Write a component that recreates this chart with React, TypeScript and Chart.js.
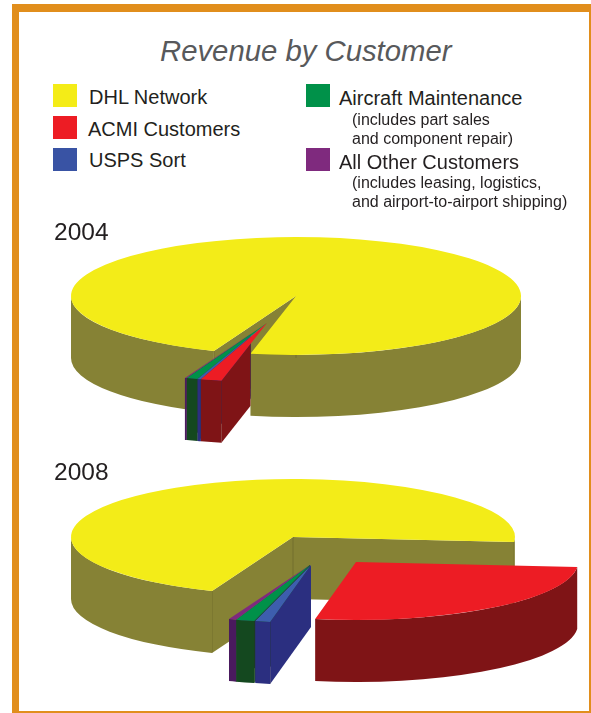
import { useEffect, useRef } from "react";
import { Chart, registerables } from "chart.js";

Chart.register(...registerables);

const categories = ["DHL Network", "ACMI Customers", "USPS Sort", "Aircraft Maintenance", "All Other Customers"];
const values2004 = [97.3, 1.5, 0.25, 0.8, 0.15];
const values2008 = [70.4, 26.6, 1.1, 1.35, 0.55];

const topColors = ["#f3ec18", "#ed1c24", "#3d5eae", "#009149", "#7f2a7e"];
const wallColors = ["#868235", "#7f1416", "#2b2f80", "#14481f", "#4a1a5e"];
const legendColors = ["#f4ec17", "#ed1c24", "#3953a4", "#009149", "#7f2a7e"];
const paintOrder = [0, 4, 3, 2, 1];

type Slab = {
  cx: number;
  cy: number;
  tilt: number;
  depth: number;
  shifts: number[][];
};

const slab2004: Slab = {
  cx: 296,
  cy: 115,
  tilt: 0.262,
  depth: 62,
  shifts: [[0, 0], [-29, 27], [-29, 27], [-29, 27], [-29, 27]],
};

const slab2008: Slab = {
  cx: 293,
  cy: 85,
  tilt: 0.261,
  depth: 62,
  shifts: [[0, 0], [63, 25], [18, 28], [17, 28], [17, 28]],
};

// Extrudes each arc downward and lays the library's own arc element on top as the lid.
const extrudedPie = {
  id: "extrudedPie",
  beforeDatasetDraw(chart: any, args: any, opts: Slab) {
    const ctx = chart.ctx;
    const arcs = args.meta.data;
    const { cx, cy, tilt, depth, shifts } = opts;

    // When the main slice's closing edge sits left of centre, its rim hides whatever is pulled out behind it.
    const mainEnd = arcs[0].getProps(["endAngle", "outerRadius"], true);
    const hidesBehind = Math.cos(mainEnd.endAngle) < 0;
    const hideX = cx + mainEnd.outerRadius * Math.cos(mainEnd.endAngle);

    for (const i of paintOrder) {
      const arc = arcs[i];
      const { startAngle: a0, endAngle: a1, outerRadius: r } = arc.getProps(["startAngle", "endAngle", "outerRadius"], true);
      const x = cx + shifts[i][0];
      const y = cy + shifts[i][1];
      const ry = r * tilt;
      const wall = wallColors[i];
      const seam = "rgba(50,45,20,0.22)";

      ctx.save();
      if (i > 0 && hidesBehind) {
        ctx.beginPath();
        ctx.rect(0, 0, hideX, chart.height);
        ctx.clip();
      }
      ctx.fillStyle = wall;
      // Cut faces, visible only when they turn toward the viewer
      const cutFace = (a: number) => {
        const px = x + r * Math.cos(a);
        const py = y + ry * Math.sin(a);
        ctx.beginPath();
        ctx.moveTo(x, y);
        ctx.lineTo(px, py);
        ctx.lineTo(px, py + depth);
        ctx.lineTo(x, y + depth);
        ctx.closePath();
        ctx.fill();
        ctx.strokeStyle = seam;
        ctx.lineWidth = 1;
        ctx.beginPath();
        ctx.moveTo(px, py);
        ctx.lineTo(px, py + depth);
        ctx.stroke();
      };
      if (Math.cos(a0) < 0) cutFace(a0);
      if (Math.cos(a1) > 0) cutFace(a1);

      // Rim, only over the front half of the ellipse
      for (let k = -1; k <= 2; k++) {
        const from = Math.max(a0, 2 * Math.PI * k);
        const to = Math.min(a1, 2 * Math.PI * k + Math.PI);
        if (to <= from) continue;
        ctx.beginPath();
        ctx.ellipse(x, y, r, ry, 0, from, to);
        ctx.ellipse(x, y + depth, r, ry, 0, to, from, true);
        ctx.closePath();
        ctx.fill();
      }
      if (i === 0) {
        ctx.strokeStyle = seam;
        ctx.lineWidth = 1;
        ctx.beginPath();
        ctx.moveTo(x, y);
        ctx.lineTo(x, y + depth);
        ctx.stroke();
      }
      ctx.restore();

      ctx.save();
      ctx.translate(x, y);
      ctx.scale(1, tilt);
      ctx.translate(-arc.x, -arc.y);
      arc.draw(ctx, chart.chartArea);
      ctx.restore();
    }
    return false;
  },
};

function SlabPie({ values, slab, radius, top, height }: { values: number[]; slab: Slab; radius: number; top: number; height: number }) {
  const ref = useRef<HTMLCanvasElement>(null);
  useEffect(() => {
    const chart = new Chart(ref.current!, {
      type: "pie",
      data: {
        labels: categories,
        datasets: [{ data: values, backgroundColor: topColors, borderWidth: 0, radius }],
      },
      options: {
        responsive: false,
        animation: false,
        rotation: 201.4,
        events: [],
        plugins: { legend: { display: false }, tooltip: { enabled: false }, extrudedPie: slab },
      } as any,
      plugins: [extrudedPie],
    });
    return () => chart.destroy();
  }, []);
  return <canvas ref={ref} width={591} height={height} style={{ position: "absolute", left: 0, top, width: 591, height }} />;
}

const sans = '"Liberation Sans", Arial, sans-serif';
const frameColor = "#e18e1c";

function Label({ x, y, size, color, style, children }: any) {
  return (
    <div style={{ position: "absolute", left: x, top: y, fontSize: size, lineHeight: 1, color: color ?? "#231f20", whiteSpace: "nowrap", fontFamily: sans, ...style }}>
      {children}
    </div>
  );
}

function Swatch({ x, y, color }: { x: number; y: number; color: string }) {
  return <div style={{ position: "absolute", left: x, top: y, width: 24, height: 23, background: color }} />;
}

function Bar({ x, y, w, h }: { x: number; y: number; w: number; h: number }) {
  return <div style={{ position: "absolute", left: x, top: y, width: w, height: h, background: frameColor }} />;
}

export default function App() {
  return (
    <div style={{ position: "absolute", left: 0, top: 0, width: 591, height: 713, background: "#fff", overflow: "hidden" }}>
      <Bar x={12} y={4} w={579} h={8} />
      <Bar x={12} y={4} w={7} h={709} />
      <Bar x={12} y={711} w={579} h={2} />
      <Bar x={589} y={4} w={2} h={709} />

      <SlabPie values={values2004} slab={slab2004} radius={225} top={181} height={280} />
      <SlabPie values={values2008} slab={slab2008} radius={222} top={452} height={250} />

      <Label x={160} y={36} size={29.3} color="#58595b" style={{ fontStyle: "italic" }}>Revenue by Customer</Label>

      <Swatch x={53} y={84} color={legendColors[0]} />
      <Swatch x={53} y={116} color={legendColors[1]} />
      <Swatch x={53} y={148} color={legendColors[2]} />
      <Swatch x={306} y={84} color={legendColors[3]} />
      <Swatch x={306} y={148} color={legendColors[4]} />

      <Label x={89} y={87} size={20}>{categories[0]}</Label>
      <Label x={88} y={119} size={20}>{categories[1]}</Label>
      <Label x={89} y={150} size={20}>{categories[2]}</Label>
      <Label x={339} y={88} size={20}>{categories[3]}</Label>
      <Label x={339} y={152} size={20}>{categories[4]}</Label>

      <Label x={352} y={112} size={16}>(includes part sales</Label>
      <Label x={352} y={131} size={16}>and component repair)</Label>
      <Label x={352} y={175} size={16}>(includes leasing, logistics,</Label>
      <Label x={352} y={194} size={16}>and airport-to-airport shipping)</Label>

      <Label x={54} y={220} size={24.5}>2004</Label>
      <Label x={54} y={460} size={24.5}>2008</Label>
    </div>
  );
}
